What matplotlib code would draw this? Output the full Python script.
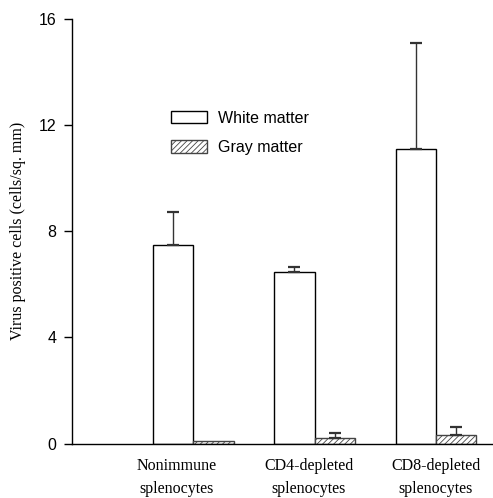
import matplotlib
matplotlib.use("Agg")
import matplotlib.pyplot as plt
import matplotlib.transforms as mtransforms
import numpy as np

plt.rcParams['hatch.linewidth'] = 0.6

groups_line1 = ["Nonimmune", "CD4-depleted", "CD8-depleted"]
groups_line2 = ["splenocytes", "splenocytes", "splenocytes"]
white_vals = [7.48, 6.48, 11.11]
white_err = [1.26, 0.17, 4.0]
gray_vals = [0.10, 0.22, 0.32]
gray_err = [0.0, 0.19, 0.31]
yticks = [0, 4, 8, 12, 16]
label_pos = [0.86, 1.95, 3.0]

fig = plt.figure(figsize=(4.93, 4.98), dpi=100)
ax = fig.add_axes([0.146, 0.1094, 0.854, 0.8525])

x = np.arange(1, len(groups_line1) + 1)
w = 1 / 3
ax.bar(x - w / 2, white_vals, w, color="white", edgecolor="black", linewidth=1.0,
       label="White matter", zorder=2)
ax.bar(x + w / 2, gray_vals, w, color="white", edgecolor="#444444", hatch="//////",
       linewidth=1.0, label="Gray matter", zorder=2)
ax.errorbar(x - w / 2, white_vals, yerr=[np.zeros(3), white_err], fmt="none",
            ecolor="#333333", elinewidth=1.0, capsize=4, capthick=1.6, zorder=3)
ge = np.array(gray_err)
m = ge > 0
ax.errorbar((x + w / 2)[m], np.array(gray_vals)[m], yerr=[np.zeros(m.sum()), ge[m]], fmt="none",
            ecolor="#333333", elinewidth=1.0, capsize=4, capthick=1.6, zorder=3)

ax.set_xlim(0, 3.47)
ax.set_ylim(0, 16)
ax.set_yticks(yticks)
ax.set_yticklabels([str(t) for t in yticks], fontsize=11.5, family="Liberation Sans")
ax.tick_params(axis="y", length=6, width=1, pad=5)
ax.set_xticks([])
for s in ["top", "right"]:
    ax.spines[s].set_visible(False)
ax.spines["left"].set_linewidth(1.0)
ax.spines["bottom"].set_linewidth(1.0)

trans = mtransforms.blended_transform_factory(ax.transData, fig.transFigure)
for xp, l1, l2 in zip(label_pos, groups_line1, groups_line2):
    fig.text(xp, 1 - 470 / 498, l1, transform=trans, ha="center", va="baseline",
             fontsize=11.5, family="Liberation Serif")
    fig.text(xp, 1 - 493 / 498, l2, transform=trans, ha="center", va="baseline",
             fontsize=11.5, family="Liberation Serif")

ax.set_ylabel("Virus positive cells (cells/sq. mm)", fontsize=11.5, family="Liberation Serif",
              labelpad=9)

leg = ax.legend(loc="upper left", bbox_to_anchor=(0.2, 0.818), frameon=False,
                prop={"family": "Liberation Sans", "size": 11.5},
                handlelength=2.3, handleheight=0.8, labelspacing=0.9, handletextpad=0.7)

fig.savefig("out.png", dpi=100)
